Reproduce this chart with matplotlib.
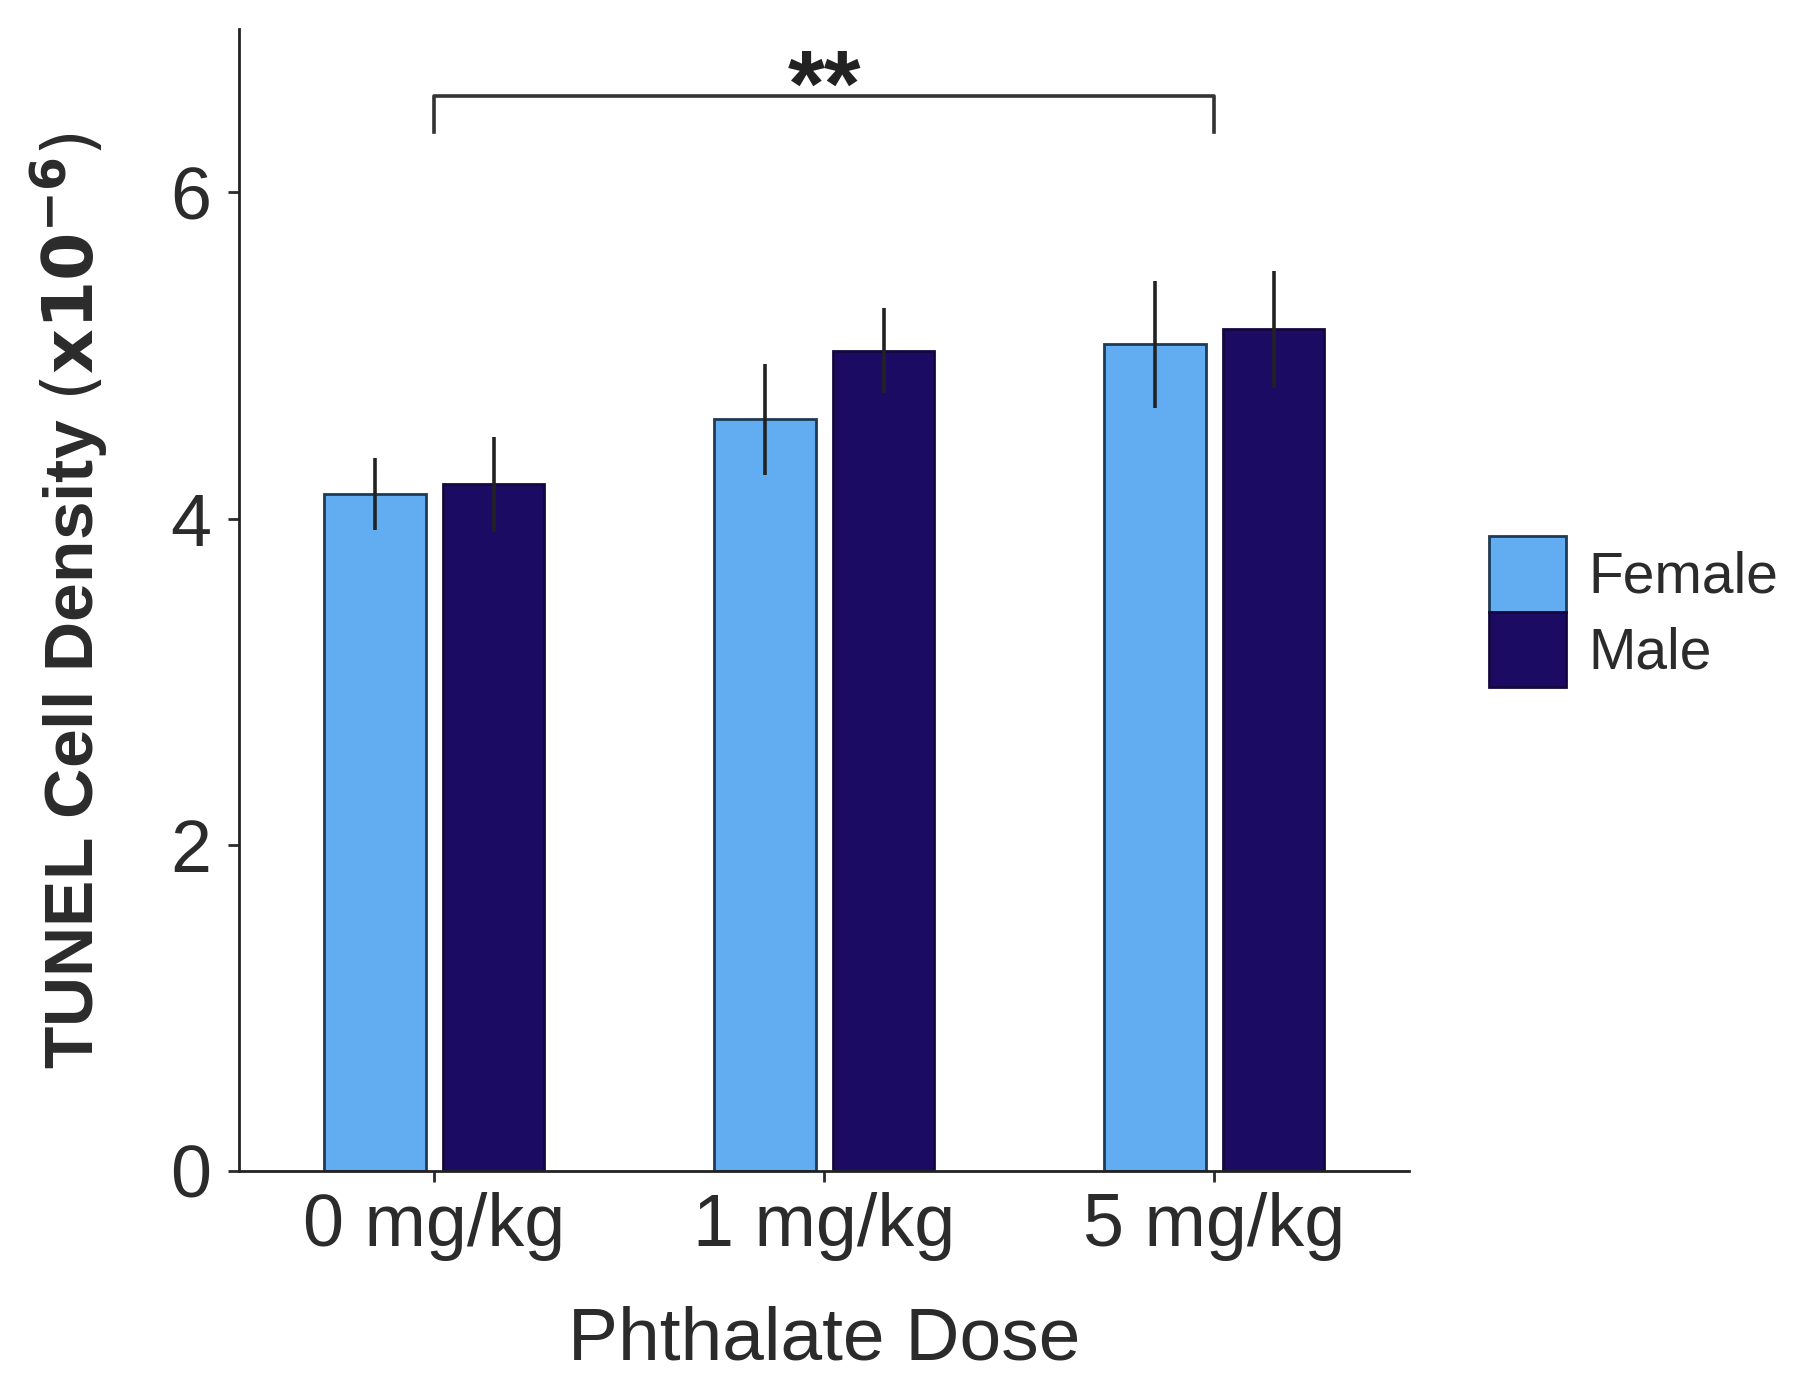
import matplotlib
matplotlib.use('Agg')
import matplotlib.pyplot as plt
import numpy as np

plt.rcParams['font.family'] = ['Liberation Sans', 'DejaVu Sans']

# data
doses = ['0 mg/kg', '1 mg/kg', '5 mg/kg']
female = [4.15, 4.61, 5.07]
female_err = [0.22, 0.34, 0.39]
male = [4.21, 5.03, 5.16]
male_err = [0.29, 0.26, 0.36]
yticks = [0, 2, 4, 6]

female_col = '#62ADF2'
male_col = '#1C0B63'
text_col = '#2b2b2b'

fig = plt.figure(figsize=(9, 6.995), dpi=200)
ax = fig.add_axes([0.133, 0.163, 0.65, 0.816])

x = np.arange(len(doses))
w = 0.26
off = 0.152
ax.bar(x - off, female, w, color=female_col, edgecolor='#1f3a55', linewidth=1.0,
       label='Female', zorder=2)
ax.bar(x + off, male, w, color=male_col, edgecolor='#14083f', linewidth=1.0,
       label='Male', zorder=2)
ax.errorbar(x - off, female, yerr=female_err, fmt='none', ecolor='#222222',
            elinewidth=1.3, capsize=0, zorder=3)
ax.errorbar(x + off, male, yerr=male_err, fmt='none', ecolor='#222222',
            elinewidth=1.3, capsize=0, zorder=3)

ax.set_xlim(-0.5, 2.5)
ax.set_ylim(0, 7.0)
ax.set_xticks(x)
ax.set_xticklabels(doses)
ax.set_yticks(yticks)
ax.tick_params(axis='both', labelsize=26.5, colors=text_col, length=4, width=1.0)
ax.tick_params(axis='y', pad=6)
for lab in ax.get_xticklabels() + ax.get_yticklabels():
    lab.set_color(text_col)

for s in ['top', 'right']:
    ax.spines[s].set_visible(False)
for s in ['left', 'bottom']:
    ax.spines[s].set_linewidth(1.0)
    ax.spines[s].set_color('#222222')

ax.set_xlabel('Phthalate Dose', fontsize=27, color=text_col, labelpad=16)
ax.set_ylabel(r'TUNEL Cell Density $(\mathbf{x10^{-6}})$', fontsize=25,
              fontweight='bold', color=text_col, labelpad=22)

# significance bracket
ax.plot([0, 0, 2, 2], [6.37, 6.59, 6.59, 6.37], color='#333333', lw=1.3,
        clip_on=False, zorder=4)
ax.text(1, 6.47, '**', ha='center', va='baseline', fontsize=34,
        fontweight='bold', color='#222222')

ax.legend(loc='center left', bbox_to_anchor=(1.068, 0.49), frameon=False,
          fontsize=20.5, handlelength=1.35, handleheight=1.67, labelspacing=0.0,
          handletextpad=0.4, borderpad=0, borderaxespad=0, labelcolor=text_col)

plt.savefig('out.png', dpi=200)
